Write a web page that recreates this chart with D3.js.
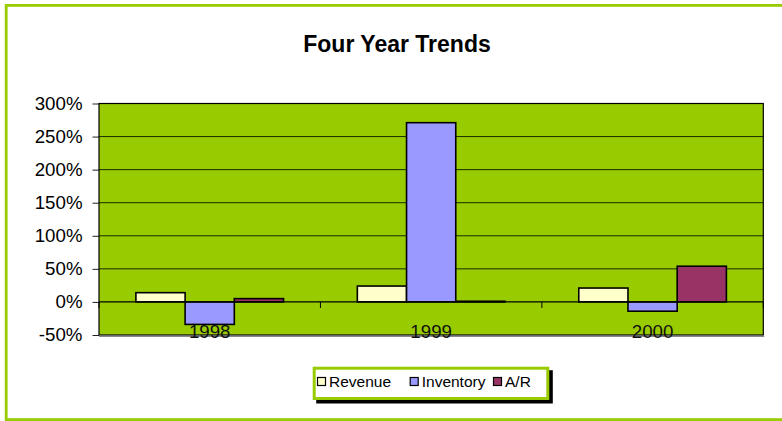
<!DOCTYPE html>
<html>
<head>
<meta charset="utf-8">
<script src="https://cdn.jsdelivr.net/npm/d3@7"></script>
<style>
  html, body { margin: 0; padding: 0; background: #fff; }
  svg { display: block; font-family: "Liberation Sans", Arial, sans-serif; }
</style>
</head>
<body>
<svg id="chart" width="782" height="421"></svg>
<script>
// ---- data ----
const categories = ["1998", "1999", "2000"];
const seriesNames = ["Revenue", "Inventory", "A/R"];
const revenue = [0.14, 0.24, 0.21];
const inventory = [-0.34, 2.71, -0.14];
const accountsReceivable = [0.05, 0.01, 0.54];
const yTicks = [-0.5, 0, 0.5, 1.0, 1.5, 2.0, 2.5, 3.0];
const seriesColors = ["#ffffcc", "#9999ff", "#993366"];
const chartTitle = "Four Year Trends";

const seriesValues = [revenue, inventory, accountsReceivable];

const svg = d3.select("#chart");

// outer frame
svg.append("rect")
  .attr("x", 6.2).attr("y", 5.4)
  .attr("width", 790).attr("height", 414.2)
  .attr("fill", "#fff")
  .attr("stroke", "#99cc00")
  .attr("stroke-width", 2.8);

// title
svg.append("text")
  .attr("x", 397).attr("y", 52)
  .attr("text-anchor", "middle")
  .attr("font-size", 23).attr("font-weight", "bold")
  .attr("fill", "#000")
  .text(chartTitle);

const plot = { left: 99, right: 763.3, top: 103.5, bottom: 335 };

const y = d3.scaleLinear()
  .domain([-0.5, 3.0])
  .range([plot.bottom, plot.top]);

const x0 = d3.scaleBand()
  .domain(categories)
  .range([plot.left, plot.right])
  .padding(0);

const bw = x0.bandwidth();
const x1 = d3.scaleBand()
  .domain(seriesNames)
  .range([bw / 6, bw * 5 / 6])
  .padding(0);

// plot background
svg.append("rect")
  .attr("x", plot.left).attr("y", plot.top)
  .attr("width", plot.right - plot.left)
  .attr("height", plot.bottom - plot.top)
  .attr("fill", "#99cc00");

// gridlines
svg.append("g")
  .selectAll("line")
  .data(yTicks.filter(t => t !== 0 && t !== -0.5 && t !== 3.0))
  .join("line")
  .attr("x1", plot.left).attr("x2", plot.right)
  .attr("y1", d => y(d)).attr("y2", d => y(d))
  .attr("stroke", "#1a2a00").attr("stroke-width", 1);

// y axis
const yAxis = d3.axisLeft(y)
  .tickValues(yTicks)
  .tickSize(6.5)
  .tickPadding(10)
  .tickFormat(d => Math.round(d * 100) + "%");

const gy = svg.append("g")
  .attr("transform", `translate(${plot.left},0)`)
  .call(yAxis);
gy.select(".domain").remove();
gy.selectAll(".tick line").attr("stroke", "#222").attr("stroke-width", 1);
gy.selectAll(".tick text")
  .attr("font-size", 18.7)
  .attr("fill", "#000")
  .attr("font-family", "'Liberation Sans', Arial, sans-serif");

// bars
const groups = svg.append("g")
  .selectAll("g")
  .data(categories)
  .join("g")
  .attr("transform", d => `translate(${x0(d)},0)`);

groups.selectAll("rect")
  .data((d, i) => seriesNames.map((s, j) => ({ s, j, v: seriesValues[j][i] })))
  .join("rect")
  .attr("x", d => x1(d.s))
  .attr("width", x1.bandwidth())
  .attr("y", d => Math.min(y(d.v), y(0)))
  .attr("height", d => Math.abs(y(d.v) - y(0)))
  .attr("fill", d => seriesColors[d.j])
  .attr("stroke", "#000")
  .attr("stroke-width", 1.6);

// zero axis line with category ticks
svg.append("line")
  .attr("x1", plot.left).attr("x2", plot.right)
  .attr("y1", y(0)).attr("y2", y(0))
  .attr("stroke", "#000").attr("stroke-width", 1.2);

svg.append("g")
  .selectAll("line")
  .data(categories.map((c, i) => i).concat([categories.length]))
  .join("line")
  .attr("x1", i => plot.left + i * bw)
  .attr("x2", i => plot.left + i * bw)
  .attr("y1", y(0)).attr("y2", y(0) + 6)
  .attr("stroke", "#000").attr("stroke-width", 1);

// plot border
svg.append("rect")
  .attr("x", plot.left).attr("y", plot.top)
  .attr("width", plot.right - plot.left)
  .attr("height", plot.bottom - plot.top)
  .attr("fill", "none")
  .attr("stroke", "#000")
  .attr("stroke-width", 1.2);
svg.append("line")
  .attr("x1", plot.left).attr("x2", plot.right + 1)
  .attr("y1", plot.bottom + 1.5).attr("y2", plot.bottom + 1.5)
  .attr("stroke", "#888").attr("stroke-width", 1.2);

// category labels
svg.append("g")
  .selectAll("text")
  .data(categories)
  .join("text")
  .attr("x", d => x0(d) + bw / 2)
  .attr("y", 337.5)
  .attr("text-anchor", "middle")
  .attr("font-size", 18.7)
  .attr("fill", "#111")
  .text(d => d);

// legend
const lg = { x: 312.7, y: 366.7, w: 236.6, h: 33.3 };
svg.append("rect")
  .attr("x", lg.x + 3.5).attr("y", lg.y + 3.5)
  .attr("width", lg.w).attr("height", lg.h)
  .attr("fill", "#000");
svg.append("rect")
  .attr("x", lg.x + 1.5).attr("y", lg.y + 1.5)
  .attr("width", lg.w - 3).attr("height", lg.h - 3)
  .attr("fill", "#fff")
  .attr("stroke", "#99cc00")
  .attr("stroke-width", 3);

const legendX = [317.5, 410.2, 493.5];
const li = svg.append("g")
  .selectAll("g")
  .data(seriesNames)
  .join("g")
  .attr("transform", (d, i) => `translate(${legendX[i]},377.5)`);
li.append("rect")
  .attr("width", 8).attr("height", 8)
  .attr("fill", (d, i) => seriesColors[i])
  .attr("stroke", "#000").attr("stroke-width", 1.2);
li.append("text")
  .attr("x", 11.5).attr("y", 9.3)
  .attr("font-size", 15.5)
  .attr("fill", "#000")
  .text(d => d);
</script>
</body>
</html>
